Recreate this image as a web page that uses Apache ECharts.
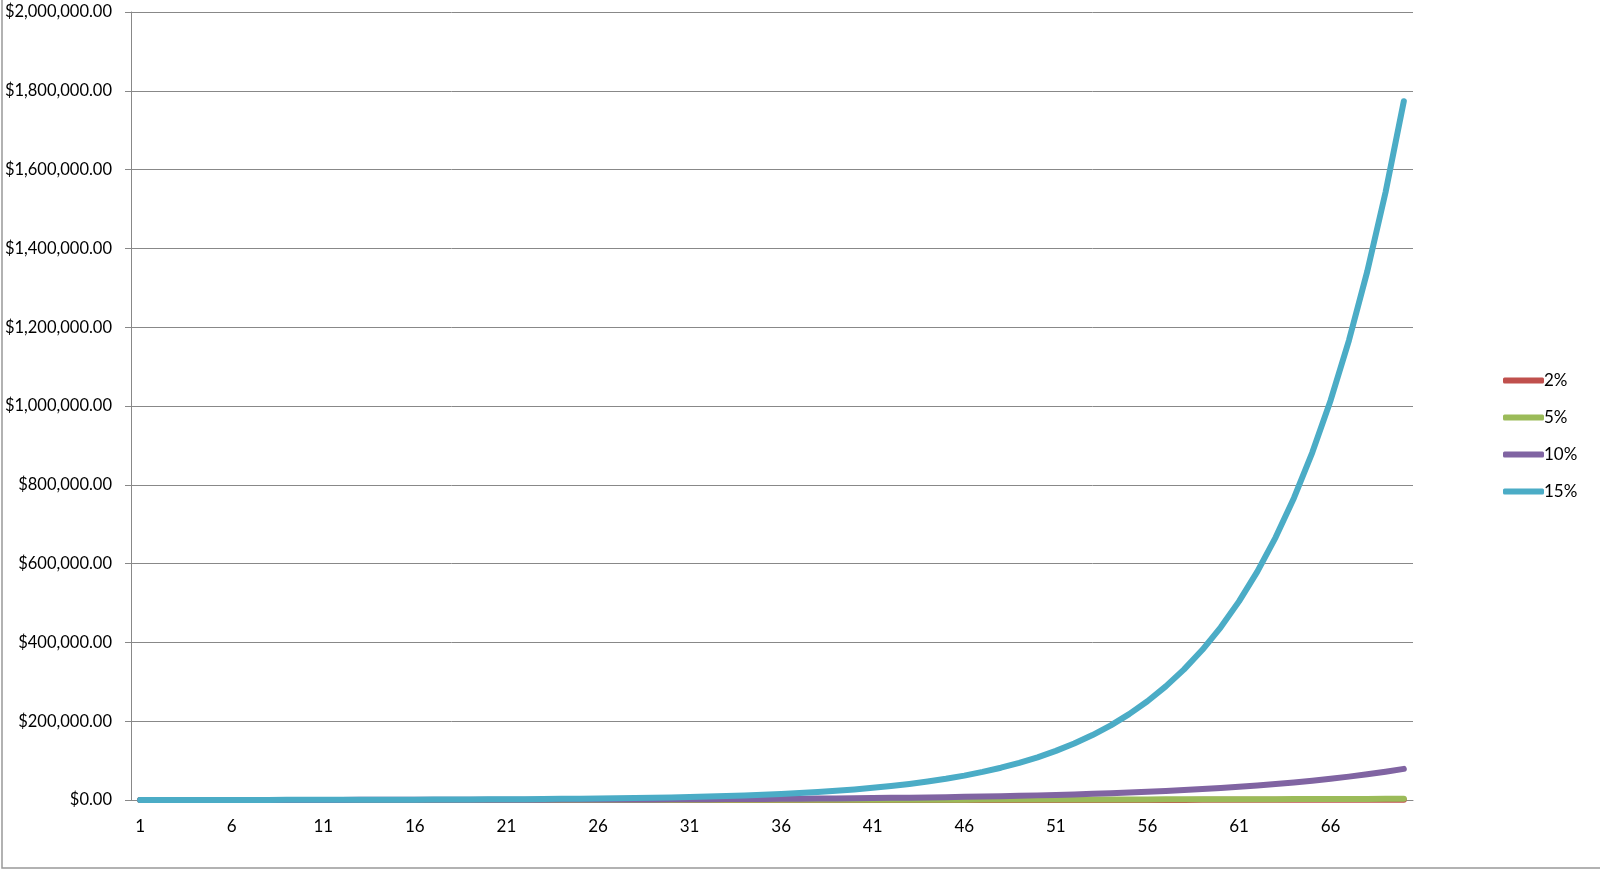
<!DOCTYPE html>
<html>
<head>
<meta charset="utf-8">
<script src="https://cdn.jsdelivr.net/npm/echarts@6/dist/echarts.min.js"></script>
<style>
html,body{margin:0;padding:0;background:#fff;}
#chart{width:1600px;height:869px;}
</style>
</head>
<body>
<div id="chart"></div>
<script>
const categories = [];
for (let i = 1; i <= 70; i++) categories.push(String(i));

const seriesNames = ['2%', '5%', '10%', '15%'];

const rate2 = [102,104,106,108,110,113,115,117,120,122,124,127,129,132,135,137,140,143,146,149,152,155,158,161,164,167,171,174,178,181,185,188,192,196,200,204,208,212,216,221,225,230,234,239,244,249,254,259,264,269,275,280,286,291,297,303,309,315,322,328,335,341,348,355,362,370,377,384,392,400];

const rate5 = [105,110,116,122,128,134,141,148,155,163,171,180,189,198,208,218,229,241,253,265,279,293,307,323,339,356,373,392,412,432,454,476,500,525,552,579,608,639,670,704,739,776,815,856,899,943,991,1040,1092,1147,1204,1264,1328,1394,1464,1537,1614,1694,1779,1868,1961,2059,2162,2270,2384,2503,2628,2760,2898,3043];

const rate10 = [110,121,133,146,161,177,195,214,236,259,285,314,345,380,418,460,505,556,612,673,740,814,895,985,1083,1192,1311,1442,1586,1745,1919,2111,2323,2555,2810,3091,3400,3740,4114,4526,4979,5476,6024,6626,7289,8018,8820,9702,10672,11739,12913,14204,15625,17187,18906,20797,22876,25164,27680,30448,33493,36842,40527,44579,49037,53941,59335,65268,71795,78975];

const rate15 = [115,132,152,175,201,231,266,306,352,405,465,535,615,708,814,936,1076,1238,1423,1637,1882,2164,2489,2863,3292,3786,4354,5007,5758,6621,7614,8757,10070,11580,13318,15315,17612,20254,23293,26786,30804,35425,40739,46850,53877,61959,71252,81940,94231,108366,124621,143314,164811,189532,217962,250657,288255,331493,381218,438400,504160,579784,666752,766765,881779,1014046,1166153,1341076,1542237,1773573];

const colors = ['#c0504d', '#9bbb59', '#8064a2', '#4bacc6'];
const values = [rate2, rate5, rate10, rate15];

function money(v) {
  return '$' + Number(v).toLocaleString('en-US', {minimumFractionDigits: 2, maximumFractionDigits: 2});
}

const chart = echarts.init(document.getElementById('chart'), null, {renderer: 'canvas'});
const font = 'Lato, "Open Sans", sans-serif';

chart.setOption({
  animation: false,
  backgroundColor: '#fff',
  color: colors,
  grid: {left: 131, right: 187, top: 12, bottom: 69, containLabel: false},
  legend: {
    orient: 'vertical',
    left: 1498,
    top: 367,
    padding: 5,
    itemWidth: 41,
    itemHeight: 6,
    itemGap: 20,
    icon: 'roundRect',
    textStyle: {fontFamily: font, fontSize: 17, color: '#000', lineHeight: 17, padding: [0,0,0,-5]},
    data: seriesNames
  },
  xAxis: {
    type: 'category',
    data: categories,
    boundaryGap: true,
    axisLine: {lineStyle: {color: '#888', width: 1}},
    axisTick: {interval: 4, length: 6, lineStyle: {color: '#888'}},
    axisLabel: {interval: 4, margin: 18, color: '#000', fontFamily: font, fontSize: 17},
    splitLine: {show: false}
  },
  yAxis: {
    type: 'value',
    min: 0,
    max: 2000000,
    interval: 200000,
    axisLine: {show: true, lineStyle: {color: '#888', width: 1}},
    axisTick: {show: true, length: 6, lineStyle: {color: '#888'}},
    axisLabel: {margin: 19, color: '#000', fontFamily: font, fontSize: 16.5, formatter: money},
    splitLine: {show: true, lineStyle: {color: '#888', width: 1}}
  },
  graphic: [
    {type: 'rect', shape: {x: 2, y: -5, width: 1700, height: 873}, style: {fill: 'none', stroke: '#999', lineWidth: 1.5}, silent: true}
  ],
  series: seriesNames.map((n, i) => ({
    name: n,
    type: 'line',
    data: values[i],
    symbol: 'none',
    smooth: false,
    lineStyle: {width: 6, color: colors[i], cap: 'round', join: 'round'},
    itemStyle: {color: colors[i]}
  }))
});
</script>
</body>
</html>
